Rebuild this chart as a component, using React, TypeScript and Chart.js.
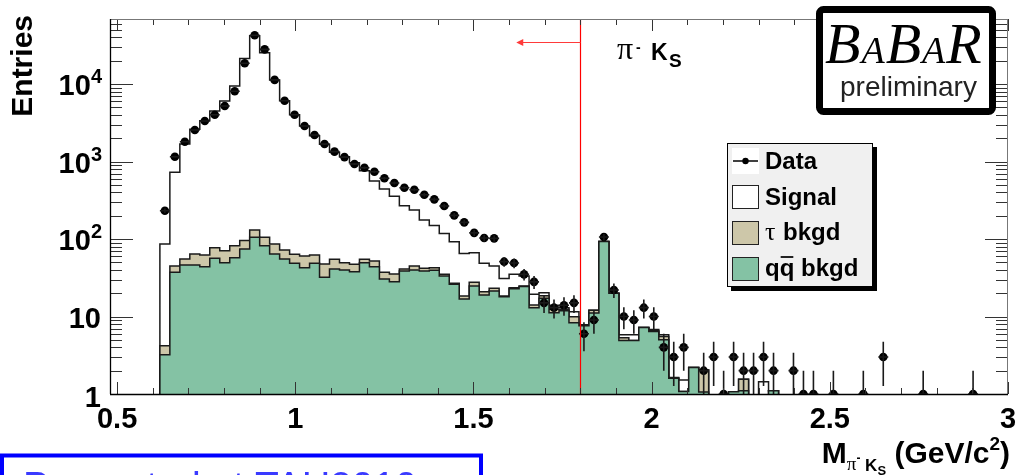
import React, { useEffect, useRef } from 'react';
import { Chart, registerables } from 'chart.js';

Chart.register(...registerables);

// Histogram binning: 0.48 - 3.00 GeV/c^2 in 90 bins of 0.028; the arrays below start at bin 5 (0.620)
const BIN_LOW = 0.48;
const BIN_WIDTH = 0.028;
const FIRST_BIN = 5;

// Data entries per bin (bins 5..89)
const dataCounts = [
  232, 1150, 1800, 2550, 3330, 4020, 5200, 8050, 18500, 42500,
  28000, 11300, 6090, 4020, 2870, 2200, 1680, 1340, 1140, 929,
  832, 739, 607, 528, 459, 433, 373, 325, 267, 202,
  164, 120, 103, 102, 51, 49, 35, 28, 15, 13,
  14, 15, 6, 9, 106, 22, 10, 9, 13, 10,
  4, 3, 4, 0, 2, 3, 1, 3, 2, 2,
  3, 2, 0, 2, 1, 1, 0, 1, 0, 0,
  1, 0, 3, 0, 0, 0, 1, 0, 0, 0,
  0, 1, 0, 0, 0,
];

// Stacked MC: total (signal + tau + qq), tau + qq, qq  (bins 5..66)
const stackTotal = [
  86, 726, 1682, 2600, 3365, 4487, 6040, 9420, 21400, 42000,
  25350, 11270, 6090, 4020, 2870, 2150, 1667, 1315, 1153, 966,
  761, 560, 442, 355, 269, 237, 176, 149, 118, 92,
  65, 66.5, 48.6, 44.9, 31, 35, 33.3, 19.3, 20.3, 14,
  13, 11.5, 7.8, 12, 93, 19.9, 5.8, 5.8, 7.2, 6.8,
  5.8, 1.63, 1.52, 2.2, 2.04, 0, 0, 1.07, 1.55, 0,
  1.44, 1.1,
];
const stackTauQQ = [
  4.2, 44.9, 55.2, 64, 62, 77, 70.6, 82, 96, 131,
  105, 86, 72, 63.5, 60.4, 62, 47.6, 54.7, 49.5, 47.1,
  54.7, 52, 37.2, 35.3, 41, 44.9, 41.9, 42.7, 35, 26.8,
  18.4, 27.6, 20.9, 23.1, 18.4, 23.5, 24.8, 14.1, 18.5, 12.4,
  12.4, 9.9, 7.6, 12, 93, 19.9, 5.3, 4.9, 7.2, 6.6,
  5.5, 1.6, 1.08, 2.2, 2.04, 0, 0, 1.07, 1.55, 0,
  0, 1.1,
];
const stackQQ = [
  3.2, 37.2, 46.2, 46.2, 44, 56.4, 49.5, 57.4, 74.3, 105,
  82, 64, 55.2, 48.6, 42.7, 48.6, 32, 41, 39.8, 37.9,
  49.5, 44, 30.5, 28.1, 38.6, 39.8, 38.6, 39.5, 33.3, 26,
  16.8, 24.8, 18.9, 21.3, 18, 22.8, 24.4, 13, 17.2, 11.2,
  11.9, 8.3, 7.6, 11.1, 93, 19.9, 4.9, 4.9, 7.2, 6.4,
  5.0, 1.6, 1.08, 2.2, 1.06, 0, 0, 1.07, 1.1, 0,
  0, 1.1,
];

const xTickValues = [0.5, 1, 1.5, 2, 2.5, 3];
const xTickLabels = ['0.5', '1', '1.5', '2', '2.5', '3'];
const yTickValues = [1, 10, 100, 1000, 10000];
const yTickBase = ['1', '10', '10', '10', '10'];
const yTickExp = ['', '', '2', '3', '4'];
const legendLabels = ['Data', 'Signal', 'bkgd', 'bkgd'];

const CUT_VALUE = 1.8;
const ARROW_TIP = 1.62;
const ARROW_LEVEL = 34800;
const X_MIN = 0.48;
const X_MAX = 3.0;
const Y_MIN = 1;
const Y_MAX = 69000;

const GREEN = '#84c2a4';
const TAN = '#cdc7a9';
const SANS = '"Liberation Sans", Arial, sans-serif';
const SERIF = '"Liberation Serif", "Times New Roman", serif';
const EMPTY = 0.1; // empty bins sit below the log axis

const edge = (i: number) => BIN_LOW + (FIRST_BIN + i) * BIN_WIDTH;

function histPoints(vals: number[]) {
  const v = vals.map((y) => (y > 0 ? y : EMPTY));
  const pts: { x: number; y: number }[] = [{ x: edge(0), y: EMPTY }];
  v.forEach((y, i) => pts.push({ x: edge(i), y }));
  pts.push({ x: edge(v.length), y: v[v.length - 1] });
  pts.push({ x: edge(v.length), y: EMPTY });
  return pts;
}

const dataPoints = dataCounts
  .map((n, i) => (n > 0 ? { x: edge(i) + BIN_WIDTH / 2, y: n } : null))
  .filter((p) => p !== null) as { x: number; y: number }[];

const decorPlugin = {
  id: 'rootDecor',
  afterDatasetsDraw(chart: any) {
    const { ctx, chartArea: a, scales } = chart;
    const x = scales.x;
    const y = scales.y;
    // error bars
    ctx.save();
    ctx.beginPath();
    ctx.rect(a.left, a.top - 6, a.right - a.left, a.bottom - a.top + 12);
    ctx.clip();
    ctx.strokeStyle = '#1a1a1a';
    ctx.lineWidth = 1.6;
    dataCounts.forEach((n, i) => {
      if (n <= 0) return;
      const px = x.getPixelForValue(edge(i) + BIN_WIDTH / 2);
      const py = y.getPixelForValue(n);
      const e = Math.sqrt(n);
      const pt = y.getPixelForValue(n + e);
      const pb = n - e > 0 ? Math.min(y.getPixelForValue(n - e), a.bottom) : a.bottom;
      ctx.beginPath();
      ctx.moveTo(px, pt);
      ctx.lineTo(px, pb);
      ctx.moveTo(x.getPixelForValue(edge(i)), py);
      ctx.lineTo(x.getPixelForValue(edge(i + 1)), py);
      ctx.stroke();
    });
    ctx.restore();

    // cut line and arrow
    ctx.save();
    const cx = Math.round(x.getPixelForValue(CUT_VALUE)) + 0.5;
    ctx.strokeStyle = '#ff0000';
    ctx.lineWidth = 1.2;
    ctx.beginPath();
    ctx.moveTo(cx, a.top);
    ctx.lineTo(cx, a.bottom);
    ctx.stroke();
    const ay = Math.round(y.getPixelForValue(ARROW_LEVEL)) + 0.5;
    const tip = x.getPixelForValue(ARROW_TIP);
    ctx.strokeStyle = '#ff3a3a';
    ctx.beginPath();
    ctx.moveTo(cx, ay);
    ctx.lineTo(tip + 5, ay);
    ctx.stroke();
    ctx.fillStyle = '#ff3a3a';
    ctx.beginPath();
    ctx.moveTo(tip, ay);
    ctx.lineTo(tip + 7, ay - 3.5);
    ctx.lineTo(tip + 7, ay + 3.5);
    ctx.closePath();
    ctx.fill();
    ctx.restore();
  },
  afterDraw(chart: any) {
    const { ctx, chartArea: a, scales } = chart;
    const x = scales.x;
    const y = scales.y;
    ctx.save();

    // ticks
    ctx.strokeStyle = '#333';
    ctx.lineWidth = 1;
    for (let i = 5; i <= 30; i++) {
      const v = i / 10;
      const px = Math.round(x.getPixelForValue(v)) + 0.5;
      const len = i % 5 === 0 ? 12 : 6;
      ctx.beginPath();
      ctx.moveTo(px, a.bottom);
      ctx.lineTo(px, a.bottom - len);
      ctx.moveTo(px, a.top);
      ctx.lineTo(px, a.top + len);
      ctx.stroke();
    }
    for (let d = 0; d <= 4; d++) {
      for (let m = 1; m <= 9; m++) {
        const v = m * Math.pow(10, d);
        if (v > Y_MAX) continue;
        const py = Math.round(y.getPixelForValue(v)) + 0.5;
        const len = m === 1 ? 23 : 12;
        ctx.beginPath();
        ctx.moveTo(a.left, py);
        ctx.lineTo(a.left + len, py);
        ctx.moveTo(a.right, py);
        ctx.lineTo(a.right - len, py);
        ctx.stroke();
      }
    }

    // frame
    ctx.strokeStyle = '#777';
    ctx.beginPath();
    ctx.moveTo(a.left, a.top + 0.5);
    ctx.lineTo(a.right, a.top + 0.5);
    ctx.moveTo(a.right - 0.5, a.top);
    ctx.lineTo(a.right - 0.5, a.bottom);
    ctx.stroke();
    ctx.strokeStyle = '#000';
    ctx.lineWidth = 1.3;
    ctx.beginPath();
    ctx.moveTo(a.left + 0.5, a.top);
    ctx.lineTo(a.left + 0.5, a.bottom);
    ctx.moveTo(a.left, a.bottom + 0.5);
    ctx.lineTo(a.right, a.bottom + 0.5);
    ctx.stroke();

    // tick labels
    ctx.fillStyle = '#000';
    ctx.textBaseline = 'alphabetic';
    ctx.font = `bold 29px ${SANS}`;
    ctx.textAlign = 'center';
    xTickValues.forEach((v, i) => {
      ctx.fillText(xTickLabels[i], x.getPixelForValue(v), 428);
    });
    ctx.textAlign = 'right';
    yTickValues.forEach((v, i) => {
      const py = y.getPixelForValue(v);
      if (yTickExp[i]) {
        ctx.font = `bold 20px ${SANS}`;
        const w = ctx.measureText(yTickExp[i]).width;
        ctx.fillText(yTickExp[i], 102, py - 1);
        ctx.font = `bold 29px ${SANS}`;
        ctx.fillText(yTickBase[i], 102 - w, py + 11);
      } else {
        ctx.font = `bold 29px ${SANS}`;
        ctx.fillText(yTickBase[i], 101, py + (i === 0 ? 13 : 11));
      }
    });

    // y title
    ctx.save();
    ctx.translate(32, 15);
    ctx.rotate(-Math.PI / 2);
    ctx.font = `bold 30px ${SANS}`;
    ctx.textAlign = 'right';
    ctx.fillText('Entries', 0, 0);
    ctx.restore();

    // x title: M_{pi- Ks} (GeV/c^2)
    const parts: [string, string, number][] = [
      ['M', `bold 30px ${SANS}`, 0],
      ['π', `19px ${SERIF}`, 7],
      ['-', `bold 12px ${SANS}`, -1],
      [' K', `bold 17px ${SANS}`, 8],
      ['S', `bold 13px ${SANS}`, 12],
      [' (GeV/c', `bold 30px ${SANS}`, 0],
      ['2', `bold 19px ${SANS}`, -13],
      [')', `bold 30px ${SANS}`, 0],
    ];
    ctx.textAlign = 'left';
    let total = 0;
    parts.forEach(([t, f]) => {
      ctx.font = f;
      total += ctx.measureText(t).width;
    });
    let cxp = 1010 - total;
    parts.forEach(([t, f, dy]) => {
      ctx.font = f;
      ctx.fillText(t, cxp, 463 + dy);
      cxp += ctx.measureText(t).width;
    });

    // pi- Ks label in the plot
    ctx.font = `32px ${SERIF}`;
    ctx.fillText('π', 617, 59);
    ctx.font = `bold 14px ${SANS}`;
    ctx.fillText('-', 636, 52);
    ctx.font = `bold 23px ${SANS}`;
    ctx.fillText('K', 651, 60);
    ctx.font = `bold 19px ${SANS}`;
    ctx.fillText('S', 669, 67);

    // BaBar logo
    ctx.fillStyle = '#fff';
    ctx.fillRect(819, 9, 174, 103);
    ctx.strokeStyle = '#000';
    ctx.lineWidth = 7;
    ctx.beginPath();
    (ctx as any).roundRect(819.5, 9.5, 173, 102, 4);
    ctx.stroke();
    ctx.fillStyle = '#000';
    const logo: [string, number][] = [['B', 58], ['A', 38], ['B', 58], ['A', 38], ['R', 58]];
    let lx = 825;
    logo.forEach(([t, s]) => {
      ctx.font = `italic ${s}px ${SERIF}`;
      ctx.fillText(t, lx, 63);
      lx += ctx.measureText(t).width + 1;
    });
    ctx.font = `28px ${SANS}`;
    ctx.fillStyle = '#222';
    ctx.fillText('preliminary', 840, 96);

    // legend
    ctx.fillStyle = '#000';
    ctx.fillRect(731, 147, 146, 144);
    ctx.fillStyle = '#f0f0f0';
    ctx.fillRect(727, 143, 146, 144);
    ctx.strokeStyle = '#000';
    ctx.lineWidth = 1;
    ctx.strokeRect(727.5, 143.5, 145, 143);
    const rows = [161, 197, 233, 269];
    // data row
    ctx.fillStyle = '#fff';
    ctx.fillRect(732, 148, 27, 26);
    ctx.strokeStyle = '#000';
    ctx.lineWidth = 1.5;
    ctx.beginPath();
    ctx.moveTo(733, rows[0]);
    ctx.lineTo(758, rows[0]);
    ctx.stroke();
    ctx.fillStyle = '#000';
    ctx.beginPath();
    ctx.arc(745.5, rows[0], 3.2, 0, Math.PI * 2);
    ctx.fill();
    const swatches = ['#ffffff', TAN, GREEN];
    ctx.lineWidth = 1;
    swatches.forEach((c, i) => {
      const cy = rows[i + 1];
      ctx.fillStyle = c;
      ctx.fillRect(732, cy - 12, 27, 24);
      ctx.strokeStyle = '#222';
      ctx.strokeRect(732.5, cy - 11.5, 26, 23);
    });
    ctx.fillStyle = '#000';
    ctx.font = `bold 24px ${SANS}`;
    ctx.fillText(legendLabels[0], 765, rows[0] + 8);
    ctx.fillText(legendLabels[1], 765, rows[1] + 8);
    ctx.font = `26px ${SERIF}`;
    ctx.fillText('τ', 765, rows[2] + 7);
    ctx.font = `bold 24px ${SANS}`;
    ctx.fillText(legendLabels[2], 783, rows[2] + 7);
    const qw = ctx.measureText('q').width;
    ctx.fillText('qq', 765, rows[3] + 7);
    ctx.lineWidth = 2;
    ctx.beginPath();
    ctx.moveTo(765 + qw + 1, rows[3] - 12);
    ctx.lineTo(765 + 2 * qw - 1, rows[3] - 12);
    ctx.stroke();
    ctx.fillText(legendLabels[3], 801, rows[3] + 7);

    // conference box (cut off by the page edge)
    ctx.strokeStyle = '#0000ff';
    ctx.lineWidth = 4;
    ctx.strokeRect(2, 455.5, 479, 60);
    ctx.fillStyle = '#3a3aff';
    ctx.font = `39px ${SANS}`;
    ctx.fillText('Presented at TAU2010', 23, 499);

    ctx.restore();
  },
};

export default function App() {
  const ref = useRef<HTMLCanvasElement>(null);
  useEffect(() => {
    const canvas = ref.current;
    if (!canvas) return;
    const chart = new Chart(canvas, {
      type: 'line',
      data: {
        datasets: [
          {
            label: 'Data',
            data: dataPoints,
            showLine: false,
            pointRadius: 4.3,
            pointBackgroundColor: '#000',
            pointBorderColor: '#000',
            pointBorderWidth: 0,
            order: 0,
          } as any,
          {
            label: 'qq bkgd',
            data: histPoints(stackQQ),
            stepped: true,
            borderColor: '#1a1a1a',
            borderWidth: 1.5,
            backgroundColor: GREEN,
            fill: 'start',
            pointRadius: 0,
            order: 1,
          },
          {
            label: 'tau bkgd',
            data: histPoints(stackTauQQ),
            stepped: true,
            borderColor: '#1a1a1a',
            borderWidth: 1.5,
            backgroundColor: TAN,
            fill: 'start',
            pointRadius: 0,
            order: 2,
          },
          {
            label: 'Signal',
            data: histPoints(stackTotal),
            stepped: true,
            borderColor: '#1a1a1a',
            borderWidth: 1.5,
            backgroundColor: '#ffffff',
            fill: 'start',
            pointRadius: 0,
            order: 3,
          },
        ],
      },
      options: {
        animation: false,
        responsive: false,
        devicePixelRatio: 1,
        events: [],
        layout: { autoPadding: false, padding: { left: 110, top: 19, right: 8, bottom: 81 } },
        plugins: { legend: { display: false }, tooltip: { enabled: false } },
        scales: {
          x: { type: 'linear', min: X_MIN, max: X_MAX, display: false },
          y: { type: 'logarithmic', min: Y_MIN, max: Y_MAX, display: false },
        },
      } as any,
      plugins: [decorPlugin],
    });
    return () => chart.destroy();
  }, []);
  return (
    <div style={{ position: 'fixed', left: 0, top: 0, width: 1016, height: 475, overflow: 'hidden', background: '#fff' }}>
      <canvas ref={ref} width={1016} height={475} style={{ display: 'block' }} />
    </div>
  );
}
